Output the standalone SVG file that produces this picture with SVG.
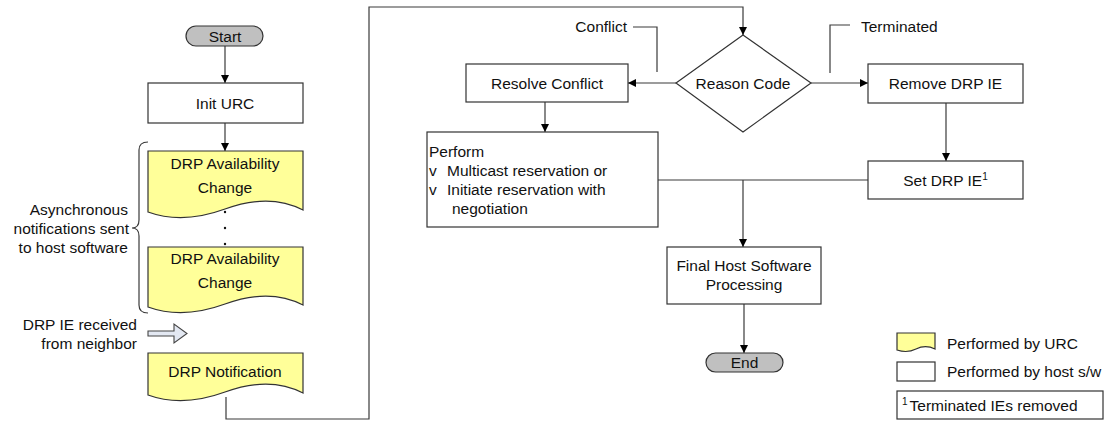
<svg xmlns="http://www.w3.org/2000/svg" width="1110" height="422" viewBox="0 0 1110 422">
  <style>
    text { font-family: "Liberation Sans", Arial, sans-serif; font-size: 15.5px; fill: #111; }
    .c { text-anchor: middle; }
    .r { text-anchor: end; }
    .box { fill: #ffffff; stroke: #333; stroke-width: 1.2; }
    .doc { fill: #ffff99; stroke: #333; stroke-width: 1.2; }
    .term { fill: #c0c0c0; stroke: #333; stroke-width: 1.2; }
    .ln { fill: none; stroke: #3a3a3a; stroke-width: 1.2; }
    .sup { font-size: 10px; }
  </style>
  <defs>
    <marker id="arr" viewBox="0 0 10 10" refX="10" refY="5" markerWidth="8" markerHeight="8" markerUnits="userSpaceOnUse" orient="auto">
      <path d="M0,0 L10,5 L0,10 Z" fill="#000"/>
    </marker>
  </defs>

  <!-- connectors -->
  <g id="connectors">
    <path class="ln" d="M225,46 V83" marker-end="url(#arr)"/>
    <path class="ln" d="M225,123 V151" marker-end="url(#arr)"/>
    <path class="ln" d="M226,397 V419 H369 V7 H743 V35" marker-end="url(#arr)"/>
    <path class="ln" d="M676,83 H628" marker-end="url(#arr)"/>
    <path class="ln" d="M811,83 H868" marker-end="url(#arr)"/>
    <path class="ln" d="M545,102 V132" marker-end="url(#arr)"/>
    <path class="ln" d="M946,103 V161" marker-end="url(#arr)"/>
    <path class="ln" d="M658,180 H868"/>
    <path class="ln" d="M743,180 V247" marker-end="url(#arr)"/>
    <path class="ln" d="M744,304 V353" marker-end="url(#arr)"/>
    <!-- branch labels' leaders -->
    <path class="ln" d="M633,27 H657 V72"/>
    <path class="ln" d="M830,73 V25 H850"/>
  </g>

  <g id="start">
    <rect class="term" x="186" y="26" width="77" height="20" rx="10"/>
    <text class="c" x="225" y="41.5">Start</text>
  </g>

  <g id="init-urc">
    <rect class="box" x="148" y="83" width="155" height="40"/>
    <text class="c" x="225" y="108.5">Init URC</text>
  </g>

  <g id="drp-avail-1">
    <path class="doc" d="M148,151 H303 V210 C280,198 255,198 225,209 C195,220 170,220 148,212 Z"/>
    <text class="c" x="225" y="168.5">DRP Availability</text>
    <text class="c" x="225" y="192.5">Change</text>
  </g>

  <g id="ellipsis" fill="#111">
    <circle cx="225" cy="212" r="1.2"/>
    <circle cx="225" cy="228" r="1.2"/>
    <circle cx="225" cy="244" r="1.2"/>
  </g>

  <g id="drp-avail-2">
    <path class="doc" d="M148,247 H303 V305 C280,293 255,293 225,304 C195,315 170,315 148,307 Z"/>
    <text class="c" x="225" y="263.5">DRP Availability</text>
    <text class="c" x="225" y="287.5">Change</text>
  </g>

  <g id="async-note">
    <path class="ln" d="M148,142 Q139,142 139,150 V220 Q139,228 132,228 Q139,228 139,236 V305 Q139,313 148,313"/>
    <text class="r" x="128" y="214.5">Asynchronous</text>
    <text class="r" x="129" y="233.5">notifications sent</text>
    <text class="r" x="128" y="252.5">to host software</text>
  </g>

  <g id="ie-received">
    <text class="r" x="137" y="329.5">DRP IE received</text>
    <text class="r" x="137" y="348.5">from neighbor</text>
    <path d="M148,331 H174 V324 L187,333.5 L174,343 V336 H148 Z" fill="#e3e8f2" stroke="#444" stroke-width="1.1"/>
  </g>

  <g id="drp-notification">
    <path class="doc" d="M148,353 H303 V393 C280,381 255,381 225,392 C195,403 170,403 148,395 Z"/>
    <text class="c" x="225" y="376.5">DRP Notification</text>
  </g>

  <g id="reason-code">
    <path class="box" d="M743,35 L811,83 L743,132 L676,83 Z"/>
    <text class="c" x="743" y="88.5">Reason Code</text>
  </g>

  <g id="labels">
    <text class="r" x="627" y="31.5">Conflict</text>
    <text x="861" y="31.5">Terminated</text>
  </g>

  <g id="resolve-conflict">
    <rect class="box" x="466" y="64" width="162" height="38"/>
    <text class="c" x="547" y="88.5">Resolve Conflict</text>
  </g>

  <g id="remove-drp-ie">
    <rect class="box" x="868" y="64" width="155" height="39"/>
    <text class="c" x="945.5" y="88.5">Remove DRP IE</text>
  </g>

  <g id="perform">
    <rect class="box" x="427" y="132" width="231" height="95"/>
    <text x="429" y="156.5">Perform</text>
    <text x="429" y="175.5">v</text>
    <text x="447" y="175.5">Multicast reservation or</text>
    <text x="429" y="194.5">v</text>
    <text x="447" y="194.5">Initiate reservation with</text>
    <text x="452" y="213.5">negotiation</text>
  </g>

  <g id="set-drp-ie">
    <rect class="box" x="868" y="161" width="155" height="38"/>
    <text class="c" x="945.5" y="185.5">Set DRP IE<tspan class="sup" dy="-6">1</tspan></text>
  </g>

  <g id="final-processing">
    <rect class="box" x="667" y="247" width="154" height="57"/>
    <text class="c" x="744" y="270.5">Final Host Software</text>
    <text class="c" x="744" y="289.5">Processing</text>
  </g>

  <g id="end">
    <rect class="term" x="706" y="353" width="77" height="19" rx="9.5"/>
    <text class="c" x="744.5" y="368">End</text>
  </g>

  <g id="legend">
    <path class="doc" d="M897,333 H935 V349 C929,346 922,346 916,349 C910,352 903,352 897,350 Z"/>
    <text x="947" y="348.5">Performed by URC</text>
    <rect class="box" x="897" y="362" width="38" height="19"/>
    <text x="947" y="376.5">Performed by host s/w</text>
    <rect class="box" x="897" y="391" width="206" height="28"/>
    <text x="902" y="410.5"><tspan class="sup" dy="-6">1</tspan><tspan dy="6" dx="2">Terminated IEs removed</tspan></text>
  </g>
</svg>
